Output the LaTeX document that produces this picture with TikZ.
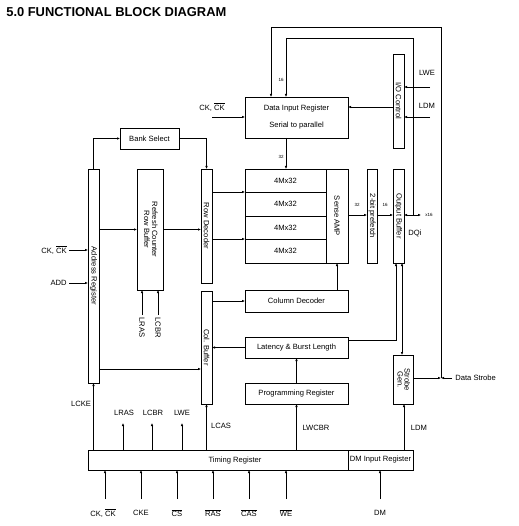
\documentclass[tikz,border=0pt]{standalone}
\usepackage{fontspec}
\setmainfont{Liberation Sans}
\usepackage{graphicx}
\usetikzlibrary{arrows.meta,calc}
\newcommand{\ovl}[1]{\mbox{$\overline{\mbox{#1}}$}}
\newcommand{\rot}[1]{\rotatebox{-90}{#1}}
\begin{document}
\begin{tikzpicture}[x=1pt,y=-1pt, line width=0.7pt, font=\fontsize{7.6}{9}\selectfont,
 arr/.style={-{Latex[length=3pt,width=2.6pt]}},
 arrb/.style={{Latex[length=3pt,width=2.6pt]}-{Latex[length=3pt,width=2.6pt]}},
 box/.style={draw, inner sep=0pt, outer sep=0pt},
 lbl/.style={inner sep=0pt},
 tiny/.style={inner sep=0pt, font=\fontsize{4.5}{5}\selectfont}]
\useasboundingbox (0,0) rectangle (518,526);

\node[lbl, anchor=base west, font=\bfseries\fontsize{12.9}{14}\selectfont] (title) at (6,17) {5.0 FUNCTIONAL BLOCK DIAGRAM};

% boxes
\node[box, minimum width=103pt, minimum height=41pt, align=center] (dir) at (296.5,117.5) {Data Input Register\\[8pt]Serial to parallel};
\node[box, minimum width=11pt, minimum height=94pt] (ioc) at (398.5,101) {\rot{I/O Control}};
\node[box, minimum width=81pt, minimum height=23.5pt] (m1) at (285.5,180.75) {4Mx32};
\node[box, minimum width=81pt, minimum height=23.5pt] (m2) at (285.5,204.25) {4Mx32};
\node[box, minimum width=81pt, minimum height=23.5pt] (m3) at (285.5,227.75) {4Mx32};
\node[box, minimum width=81pt, minimum height=23.5pt] (m4) at (285.5,251.25) {4Mx32};
\node[box, minimum width=22pt, minimum height=94pt] (sense) at (337,216) {\rot{Sense AMP}};
\node[box, minimum width=10pt, minimum height=94pt] (pref) at (372,216) {\rot{2-bit prefetch}};
\node[box, minimum width=11pt, minimum height=94pt] (ob) at (398.5,216) {\rot{Output Buffer}};
\node[box, minimum width=103pt, minimum height=22pt] (coldec) at (296.5,301) {Column Decoder};
\node[box, minimum width=103pt, minimum height=21pt] (lat) at (296.5,347.5) {Latency \& Burst Length};
\node[box, minimum width=103pt, minimum height=21pt] (prog) at (296.5,393.5) {Programming Register};
\node[box, minimum width=20pt, minimum height=49pt] (strobe) at (403,379.5) {\rot{\begin{tabular}{@{}c@{}}Strobe\\[-2pt]Gen.\end{tabular}}};
\node[box, minimum width=260pt, minimum height=20pt] (timing) at (218,460) {};
\node[lbl] (timingtxt) at (235,461) {Timing Register};
\node[box, minimum width=65pt, minimum height=20pt] (dmreg) at (380.5,460) {DM Input Register};
\node[box, minimum width=11pt, minimum height=214pt] (addr) at (93.5,276) {\rot{Address Register}};
\node[box, minimum width=59pt, minimum height=21pt] (bank) at (149.5,138.5) {Bank Select};
\node[box, minimum width=26pt, minimum height=121pt] (refresh) at (150,229.5) {\rot{\begin{tabular}{@{}c@{}}Refresh Counter\\[-1pt]Row Buffer\end{tabular}}};
\node[box, minimum width=11pt, minimum height=114pt] (rowdec) at (206.5,226) {\rot{Row Decoder}};
\node[box, minimum width=11pt, minimum height=113pt] (colbuf) at (206.5,347.5) {\rot{Col. Buffer}};

% coordinates
\coordinate (dsj) at (441,378);
\coordinate (dqj) at (413,215);
\coordinate (x16e) at (421,215);
\coordinate (dsin) at (452,378);

% loops to data input register
\draw[arr] (dsj) -- (441,27) -| ([xshift=-25.5pt]dir.north);
\draw[arr] (dqj) -- (413,38) -| ([xshift=-10.5pt]dir.north);
\node[tiny] (l16a) at (281,80) {16};

% IO control
\coordinate (lwe) at (430,87);
\coordinate (ldm) at (430,117);
\node[lbl] (lwel) at (427,73) {LWE};
\node[lbl] (ldml) at (427,106) {LDM};
\draw[arr] (lwe) -- (ioc.east |- lwe);
\draw[arr] (ldm) -- (ioc.east |- ldm);
\draw[arr] (ioc.west |- 0,107) -- (dir.east |- 0,107);

% CK into DIR
\coordinate (ckd) at (212,117);
\node[lbl] (ckdl) at (212,107) {CK, \ovl{CK}};
\draw[arr] (ckd) -- (dir.west |- ckd);

% DIR to array
\draw[arr] ([xshift=-10.5pt]dir.south) -- ([xshift=-10.5pt]dir.south |- m1.north);
\node[tiny] (l32a) at (281,157) {32};

% data path
\draw[arr] (sense.east |- 0,215) -- (pref.west |- 0,215);
\node[tiny] (l32b) at (357,205) {32};
\draw[arr] (pref.east |- 0,215) -- (ob.west |- 0,215);
\node[tiny] (l16b) at (385,205) {16};
\draw[arr] (dqj) -- (ob.east |- dqj);
\draw[arr] (dqj) -- (x16e);
\node[tiny, anchor=west] (lx16) at (425,215) {x16};
\node[lbl] (dqil) at (415,233) {DQi};

% data strobe
\node[lbl, anchor=west] (dsl) at (455,378) {Data Strobe};
\draw[arr] (dsin) -- (dsj);
\draw[arr] (strobe.east |- dsj) -- (dsj);

% latency to output buffer, output buffer <-> strobe
\draw[arr] (lat.east |- 0,340) -| ([xshift=-2.5pt]ob.south);
\draw[arrb] ([xshift=3.5pt]ob.south) -- ([xshift=3.5pt]ob.south |- strobe.north);

% column decoder, programming
\draw[arr] (coldec.north -| sense.south) -- (sense.south);
\draw[arr] (prog.north) -- (lat.south);
\draw[arr] (timing.north -| prog.south) -- (prog.south);
\node[lbl] (lwcbr) at (316,428) {LWCBR};
\draw[arr] (dmreg.north -| 404,0) -- (strobe.south -| 404,0);
\node[lbl] (ldm2) at (419,428) {LDM};

% bottom inputs
\coordinate (b1) at (105,499);
\coordinate (b2) at (141,499);
\coordinate (b3) at (177,499);
\coordinate (b4) at (213,499);
\coordinate (b5) at (249,499);
\coordinate (b6) at (286,499);
\coordinate (b7) at (380,499);
\draw[arr] (b1) -- (timing.south -| b1);
\draw[arr] (b2) -- (timing.south -| b2);
\draw[arr] (b3) -- (timing.south -| b3);
\draw[arr] (b4) -- (timing.south -| b4);
\draw[arr] (b5) -- (timing.south -| b5);
\draw[arr] (b6) -- (timing.south -| b6);
\draw[arr] (b7) -- (dmreg.south -| b7);
\node[lbl] (bl1) at (103,513) {CK, \ovl{CK}};
\node[lbl] (bl2) at (141,513) {CKE};
\node[lbl] (bl3) at (177,513) {\ovl{CS}};
\node[lbl] (bl4) at (213,513) {\ovl{RAS}};
\node[lbl] (bl5) at (249,513) {\ovl{CAS}};
\node[lbl] (bl6) at (286,513) {\ovl{WE}};
\node[lbl] (bl7) at (380,513) {DM};

% outputs of timing register
\coordinate (t1) at (123,423);
\coordinate (t2) at (152,423);
\coordinate (t3) at (182,423);
\draw[arr] (timing.north -| addr.south) -- (addr.south);
\node[lbl] (lcke) at (81,404) {LCKE};
\draw[arr] (timing.north -| t1) -- (t1);
\draw[arr] (timing.north -| t2) -- (t2);
\draw[arr] (timing.north -| t3) -- (t3);
\node[lbl] (lras) at (124,413) {LRAS};
\node[lbl] (lcbr) at (153,413) {LCBR};
\node[lbl] (lwe2) at (182,413) {LWE};
\draw[arr] (timing.north -| colbuf.south) -- (colbuf.south);
\node[lbl] (lcas) at (221,426) {LCAS};

% address register inputs
\coordinate (cka) at (69,250);
\coordinate (adda) at (69,283);
\node[lbl, anchor=east] (ckal) at (67,250) {CK, \ovl{CK}};
\node[lbl, anchor=east] (addl) at (67,283) {ADD};
\draw[arr] (cka) -- (addr.west |- cka);
\draw[arr] (adda) -- (addr.west |- adda);

% bank select
\draw[arr] (addr.north) |- (bank.west);
\draw[arr] (bank.east) -| (rowdec.north);

% refresh/row path
\draw[arr] (addr.east |- refresh.west) -- (refresh.west);
\draw[arr] (refresh.east) -- (rowdec.west |- refresh.east);
\draw[arr] (rowdec.east |- 0,192) -- (m1.west |- 0,192);
\draw[arr] (rowdec.east |- 0,239) -- (m4.west |- 0,239);

% LRAS / LCBR below refresh
\coordinate (r1) at (142,315);
\coordinate (r2) at (158,315);
\draw[arr] (r1) -- (refresh.south -| r1);
\draw[arr] (r2) -- (refresh.south -| r2);
\node[lbl, anchor=west, rotate=-90] (r1l) at (142,317) {LRAS};
\node[lbl, anchor=west, rotate=-90] (r2l) at (158,317) {LCBR};

% column path
\draw[arr] (colbuf.east |- coldec.west) -- (coldec.west);
\draw[arr] (lat.west) -- (colbuf.east |- lat.west);
\draw[arr] (addr.east |- 0,369) -- (colbuf.west |- 0,369);
\end{tikzpicture}
\end{document}
